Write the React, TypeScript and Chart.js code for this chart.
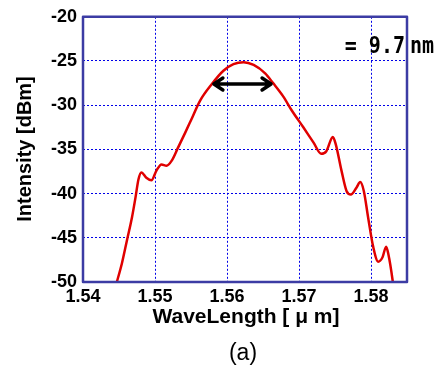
import React, { useEffect, useRef } from "react";
import { Chart, registerables } from "chart.js";
Chart.register(...registerables);

const wavelength = [1.5447, 1.5454, 1.5461, 1.5468, 1.5473, 1.5477, 1.5481, 1.5488, 1.5495, 1.5502, 1.5509, 1.5516, 1.5523, 1.5532, 1.5542, 1.555, 1.55625, 1.5579, 1.5595, 1.5609, 1.5623, 1.5637, 1.5653, 1.5664, 1.5678, 1.569, 1.5706, 1.572, 1.5731, 1.5738, 1.5747, 1.5751, 1.5759, 1.5766, 1.5772, 1.578, 1.5785, 1.579, 1.5796, 1.5803, 1.581, 1.5816, 1.5821, 1.5824, 1.5830, 1.5831];
const intensity = [-50, -47.9, -45.3, -42.7, -40.4, -38.4, -37.6, -38.2, -38.5, -37.4, -36.7, -36.85, -36.3, -34.8, -33.1, -31.7, -29.5, -27.6, -26.1, -25.35, -25.13, -25.45, -26.4, -27.5, -29.0, -30.6, -32.5, -34.2, -35.5, -35.2, -33.6, -34.4, -37.4, -39.7, -40.1, -39.3, -38.7, -39.7, -42.7, -46.0, -47.7, -47.2, -46.0, -46.8, -49.8, -50.5];
const xTicks = [1.54, 1.55, 1.56, 1.57, 1.58];
const yTicks = [-50, -45, -40, -35, -30, -25, -20];
const arrowFrom = 1.5579;
const arrowTo = 1.5664;
const arrowLevel = -27.6;
const widthText = "= 9.7";
const unitText = "nm";
const xTitle = "WaveLength [ μ m]";
const yTitle = "Intensity [dBm]";
const caption = "(a)";

export default function App() {
  const ref = useRef<HTMLCanvasElement>(null);
  useEffect(() => {
    const overlay = {
      id: "overlay",
      afterDatasetsDraw(chart: any) {
        const ctx = chart.ctx;
        const { left, right, top, bottom } = chart.chartArea;
        const xs = chart.scales.x, ys = chart.scales.y;
        ctx.save();
        const x1 = xs.getPixelForValue(arrowFrom), x2 = xs.getPixelForValue(arrowTo);
        const yy = ys.getPixelForValue(arrowLevel);
        ctx.strokeStyle = "#000";
        ctx.lineWidth = 3.5;
        ctx.lineCap = "round";
        ctx.lineJoin = "round";
        ctx.beginPath();
        ctx.moveTo(x1 + 2, yy); ctx.lineTo(x2 - 2, yy);
        ctx.moveTo(x1 + 11, yy - 6); ctx.lineTo(x1 + 2, yy); ctx.lineTo(x1 + 11, yy + 6);
        ctx.moveTo(x2 - 11, yy - 6); ctx.lineTo(x2 - 2, yy); ctx.lineTo(x2 - 11, yy + 6);
        ctx.stroke();
        ctx.strokeStyle = "#3c3ca4";
        ctx.lineWidth = 2.5;
        ctx.strokeRect(left, top, right - left, bottom - top);
        ctx.fillStyle = "#000";
        ctx.font = "bold 23px 'DejaVu Sans Mono'";
        ctx.textBaseline = "alphabetic";
        ctx.save();
        ctx.translate(right - 2, 53);
        ctx.scale(0.87, 1);
        ctx.textAlign = "right";
        ctx.fillText(widthText, 0, 0);
        ctx.restore();
        ctx.save();
        ctx.translate(right + 3, 53);
        ctx.scale(0.87, 1);
        ctx.textAlign = "left";
        ctx.fillText(unitText, 0, 0);
        ctx.restore();
        ctx.font = "bold 21px 'Liberation Sans'";
        ctx.textAlign = "center";
        ctx.textBaseline = "middle";
        ctx.fillText(xTitle, 246, 317);
        ctx.font = "23px 'Liberation Sans'";
        ctx.fillText(caption, 243, 354);
        ctx.translate(25, 149);
        ctx.rotate(-Math.PI / 2);
        ctx.font = "bold 20px 'Liberation Sans'";
        ctx.fillText(yTitle, 0, 0);
        ctx.restore();
      },
    };
    const chart = new Chart(ref.current!, {
      type: "line",
      data: {
        datasets: [
          {
            data: wavelength.map((w, i) => ({ x: w, y: intensity[i] })),
            borderColor: "#e00000",
            borderWidth: 2.5,
            pointRadius: 0,
            cubicInterpolationMode: "monotone",
            fill: false,
          },
        ],
      },
      options: {
        responsive: false,
        animation: false,
        layout: { padding: { left: 0, top: 11, right: 36, bottom: 0 } },
        plugins: { legend: { display: false }, tooltip: { enabled: false } },
        scales: {
          x: {
            type: "linear",
            min: 1.54,
            max: 1.585,
            afterBuildTicks: (s: any) => { s.ticks = xTicks.map((v) => ({ value: v })); },
            afterFit: (s: any) => { s.height = 88; },
            grid: { color: "#0000e8", lineWidth: 1, drawTicks: false } as any,
            border: { display: false, dash: [2, 2] },
            ticks: {
              color: "#000",
              padding: 4,
              font: { family: "'Liberation Sans'", weight: "bold", size: 18 },
              callback: (v: any) => Number(v).toFixed(2),
            },
          },
          y: {
            min: -50,
            max: -20,
            afterBuildTicks: (s: any) => { s.ticks = yTicks.map((v) => ({ value: v })); },
            afterFit: (s: any) => { s.width = 83; },
            grid: { color: "#0000e8", lineWidth: 1, drawTicks: false } as any,
            border: { display: false, dash: [2, 2] },
            ticks: {
              color: "#000",
              padding: 6,
              font: { family: "'Liberation Sans'", weight: "bold", size: 18 },
            },
          },
        },
      },
      plugins: [overlay],
    } as any);
    return () => chart.destroy();
  }, []);
  return (
    <div style={{ position: "fixed", left: 0, top: 0, width: 443, height: 370, background: "#fff" }}>
      <canvas ref={ref} width={443} height={370} />
    </div>
  );
}
